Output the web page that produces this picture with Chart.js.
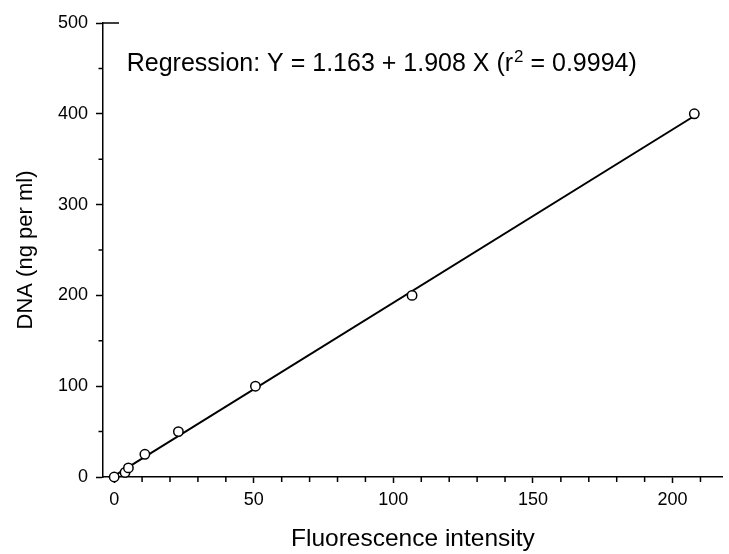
<!DOCTYPE html>
<html><head><meta charset="utf-8">
<script src="https://cdn.jsdelivr.net/npm/chart.js@4/dist/chart.umd.min.js"></script>
<style>html,body{margin:0;padding:0;background:#fff;}#wrap{width:729px;height:554px;}</style>
</head><body><div id="wrap"><canvas id="c" width="729" height="554"></canvas></div>
<script>
// Measured standards (fluorescence intensity vs DNA concentration)
const fluorescence = [0, 3.9, 5.1, 11.0, 23.0, 50.6, 106.7, 207.8];
const dnaConc      = [0, 5, 10, 25, 50, 100, 200, 400];
// Drawn regression line end points
const fitX = [0, 207.5];
const fitY = [1.2, 397];
// Axis ticks
const xMajorTicks = [0, 50, 100, 150, 200];
const xMinorTicks = [10, 20, 30, 40, 60, 70, 80, 90, 110, 120, 130, 140, 160, 170, 180, 190, 210];
const yMajorTicks = [0, 100, 200, 300, 400, 500];
const yMinorTicks = [50, 150, 250, 350, 450];
// Texts
const xTitle = 'Fluorescence intensity';
const yTitle = 'DNA (ng per ml)';
const regPre = 'Regression: Y = 1.163 + 1.908 X (r';
const regSup = '2';
const regPost = ' = 0.9994)';
const regAnchor = {x: 4.5, y: 447};

const FONT = "'Liberation Sans', Arial, sans-serif";

const extras = {
  id: 'extras',
  afterDraw(chart) {
    const ctx = chart.ctx, xs = chart.scales.x, ys = chart.scales.y;
    ctx.save();
    ctx.strokeStyle = '#000';
    ctx.lineWidth = 1.5;
    ctx.beginPath();
    xMinorTicks.forEach(v => {
      const px = xs.getPixelForValue(v);
      ctx.moveTo(px, ys.bottom); ctx.lineTo(px, ys.bottom + 5);
    });
    yMinorTicks.forEach(v => {
      const py = ys.getPixelForValue(v);
      ctx.moveTo(xs.left, py); ctx.lineTo(xs.left - 4.5, py);
    });
    // short stub to the right at the top of the y axis
    const topY = ys.getPixelForValue(yMajorTicks[yMajorTicks.length - 1]);
    ctx.moveTo(xs.left, topY); ctx.lineTo(xs.left + 16, topY);
    ctx.stroke();
    // regression text
    const tx = xs.getPixelForValue(regAnchor.x), ty = ys.getPixelForValue(regAnchor.y);
    ctx.fillStyle = '#000';
    ctx.textBaseline = 'alphabetic';
    ctx.textAlign = 'left';
    ctx.font = '25px ' + FONT;
    ctx.fillText(regPre, tx, ty);
    let w = ctx.measureText(regPre).width;
    ctx.font = '17px ' + FONT;
    ctx.fillText(regSup, tx + w + 1, ty - 9);
    w += ctx.measureText(regSup).width + 1;
    ctx.font = '25px ' + FONT;
    ctx.fillText(regPost, tx + w, ty);
    ctx.restore();
  }
};

new Chart(document.getElementById('c'), {
  type: 'scatter',
  data: {
    datasets: [
      {
        label: 'Standards',
        data: fluorescence.map((x, i) => ({x, y: dnaConc[i]})),
        pointRadius: 4.7,
        pointBorderWidth: 1.5,
        pointBackgroundColor: '#fff',
        pointBorderColor: '#000',
        showLine: false,
        clip: false,
        order: 0
      },
      {
        label: 'Fit',
        data: fitX.map((x, i) => ({x, y: fitY[i]})),
        showLine: true,
        borderColor: '#000',
        borderWidth: 2,
        pointRadius: 0,
        fill: false,
        clip: false,
        order: 1
      }
    ]
  },
  options: {
    responsive: false,
    devicePixelRatio: 1,
    animation: false,
    layout: {padding: {top: 23, right: 0, bottom: 0, left: 0}},
    plugins: {legend: {display: false}, tooltip: {enabled: false}, title: {display: false}},
    scales: {
      x: {
        type: 'linear', position: 'bottom', min: -4, max: 218,
        afterBuildTicks: s => { s.ticks = xMajorTicks.map(v => ({value: v})); },
        afterFit: s => { s.height = 77; },
        ticks: {color: '#000', font: {family: FONT, size: 18}, padding: 6, maxRotation: 0, autoSkip: false},
        grid: {drawOnChartArea: false, drawTicks: true, tickLength: 6, tickColor: '#000', tickWidth: 1.5},
        border: {display: true, color: '#000', width: 1.5},
        title: {display: true, text: xTitle, color: '#000', font: {family: FONT, size: 24.5}, padding: {top: 0, bottom: 0}}
      },
      y: {
        type: 'linear', position: 'left', min: 0, max: 500,
        afterBuildTicks: s => { s.ticks = yMajorTicks.map(v => ({value: v})); },
        afterFit: s => { s.width = 103; },
        ticks: {color: '#000', font: {family: FONT, size: 18}, padding: 8, autoSkip: false},
        grid: {drawOnChartArea: false, drawTicks: true, tickLength: 7, tickColor: '#000', tickWidth: 1.5},
        border: {display: true, color: '#000', width: 1.5},
        title: {display: true, text: yTitle, color: '#000', font: {family: FONT, size: 22}, padding: {top: 13, bottom: 0}}
      }
    }
  },
  plugins: [extras]
});
</script>
</body></html>
